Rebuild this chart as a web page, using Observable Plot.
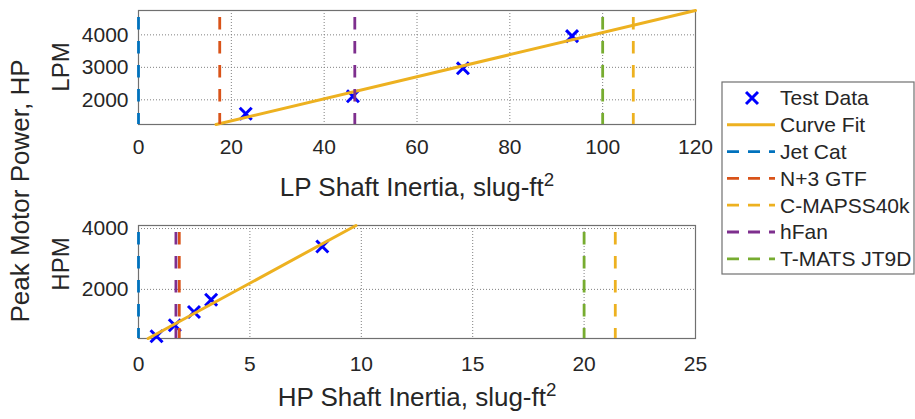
<!DOCTYPE html>
<html><head><meta charset="utf-8">
<script src="https://cdn.jsdelivr.net/npm/d3@7"></script>
<script src="https://cdn.jsdelivr.net/npm/@observablehq/plot@0.6"></script>
<style>
body{margin:0;background:#fff;font-family:"Liberation Sans",Arial,sans-serif;color:#262626;}
#root{position:relative;width:915px;height:419px;overflow:hidden;background:#fff;}
.abs{position:absolute;left:0;}
.lbl{position:absolute;font-size:26px;white-space:nowrap;transform:translate(-50%,-50%);line-height:1;}
.rot{transform:translate(-50%,-50%) rotate(-90deg);}
.sm{font-size:24px;}
sup{font-size:0.72em;vertical-align:0.55em;line-height:0;}
</style></head><body><div id="root"></div>
<script>
// ---- data ----
const lpTestX = [23.1, 46.2, 69.9, 93.4];
const lpTestY = [1570, 2110, 2970, 3960];
const lpFitX = [16.7, 120];
const lpFitY = [1240, 4750];
const hpTestX = [0.81, 1.63, 2.49, 3.26, 8.25];
const hpTestY = [460, 820, 1255, 1660, 3410];
const hpFitX = [0.43, 9.76];
const hpFitY = [385, 4100];
const engines = ["Jet Cat", "N+3 GTF", "C-MAPSS40k", "hFan", "T-MATS JT9D"];
const engineColors = ["#0072BD", "#D95319", "#EDB120", "#7E2F8E", "#77AC30"];
const lpEngineX = [0, 17.5, 106.6, 46.6, 100];
const hpEngineX = [0, 1.83, 21.4, 1.68, 20.0];
const lpXTicks = [0, 20, 40, 60, 80, 100, 120];
const lpYTicks = [2000, 3000, 4000];
const hpXTicks = [0, 5, 10, 15, 20, 25];
const hpYTicks = [2000, 4000];
const lpDomainX = [0, 120], lpDomainY = [1240, 4750];
const hpDomainX = [0, 25], hpDomainY = [385, 4100];
const legendNames = ["Test Data", "Curve Fit", ...engines];
const testColor = "#0000FF", fitColor = "#EDB120";

const FONT = '"Liberation Sans", Arial, sans-serif';
const root = document.getElementById("root");

function panel({testX, testY, fitX, fitY, engX, xDomain, yDomain, xTicks, yTicks, height, mb, xpad}) {
  const test = testX.map((x, i) => ({x, y: testY[i]}));
  const fit = fitX.map((x, i) => ({x, y: fitY[i]}));
  const eng = engX.map((x, i) => ({x, name: engines[i], color: engineColors[i]}));
  return Plot.plot({
    width: 700, height, marginLeft: 138, marginRight: 5, marginTop: 10, marginBottom: mb,
    style: {fontFamily: FONT, fontSize: "21px", color: "#262626", background: "transparent", overflow: "visible"},
    x: {domain: xDomain, ticks: xTicks, tickSize: 0, tickPadding: xpad, label: null, tickFormat: d => String(d)},
    y: {domain: yDomain, ticks: yTicks, tickSize: 0, tickPadding: 10, label: null, tickFormat: d => String(d)},
    color: {type: "identity"},
    marks: [
      Plot.ruleX(xTicks.slice(1, -1), {stroke: "#808080", strokeDasharray: "1,2", strokeWidth: 1}),
      Plot.ruleY(yTicks, {stroke: "#808080", strokeDasharray: "1,2", strokeWidth: 1}),
      Plot.frame({stroke: "#707070", strokeWidth: 1.2}),
      Plot.dot(test, {x: "x", y: "y", symbol: "times", r: 5.5, stroke: testColor, strokeWidth: 3}),
      Plot.line(fit, {x: "x", y: "y", stroke: fitColor, strokeWidth: 3}),
      Plot.ruleX(eng, {x: "x", stroke: "color", strokeWidth: 2.8, strokeDasharray: "12.5,11.5", strokeDashoffset: -7})
    ]
  });
}

const top1 = panel({testX: lpTestX, testY: lpTestY, fitX: lpFitX, fitY: lpFitY, engX: lpEngineX,
  xDomain: lpDomainX, yDomain: lpDomainY, xTicks: lpXTicks, yTicks: lpYTicks, height: 200, mb: 76, xpad: 15});
top1.classList.add("abs"); top1.style.top = "0px";
root.appendChild(top1);

const bot = panel({testX: hpTestX, testY: hpTestY, fitX: hpFitX, fitY: hpFitY, engX: hpEngineX,
  xDomain: hpDomainX, yDomain: hpDomainY, xTicks: hpXTicks, yTicks: hpYTicks, height: 204, mb: 81, xpad: 18});
bot.classList.add("abs"); bot.style.top = "215px";
root.appendChild(bot);

function label(html, x, y, rot, cls) {
  const d = document.createElement("div");
  d.className = "lbl" + (rot ? " rot" : "") + (cls ? " " + cls : "");
  d.style.left = x + "px"; d.style.top = y + "px";
  d.innerHTML = html;
  root.appendChild(d);
}
label("LP Shaft Inertia, slug-ft<sup>2</sup>", 417, 187);
label("HP Shaft Inertia, slug-ft<sup>2</sup>", 417, 397);
label("LPM", 61, 67, true, "sm");
label("HPM", 61, 264, true, "sm");
label("Peak Motor Power, HP", 20, 191, true);

// ---- legend ----
const lg = d3.create("svg").attr("width", 194).attr("height", 194)
  .style("position", "absolute").style("left", "721px").style("top", "81px")
  .style("font-family", FONT).style("font-size", "21px");
lg.append("rect").attr("x", 1).attr("y", 1).attr("width", 192).attr("height", 192)
  .attr("fill", "#fff").attr("stroke", "#707070").attr("stroke-width", 1.2);
legendNames.forEach((name, i) => {
  const cy = 17 + i * 26.8;
  const g = lg.append("g").attr("transform", `translate(0,${cy})`);
  if (i === 0) {
    g.append("path").attr("d", d3.symbol(d3.symbolTimes, 95)()).attr("transform", "translate(31,0)")
      .attr("stroke", testColor).attr("stroke-width", 3).attr("fill", "none");
  } else if (i === 1) {
    g.append("line").attr("x1", 6).attr("x2", 54).attr("stroke", fitColor).attr("stroke-width", 3);
  } else {
    g.append("line").attr("x1", 6).attr("x2", 54).attr("stroke", engineColors[i - 2])
      .attr("stroke-width", 2.8).attr("stroke-dasharray", "12,9");
  }
  g.append("text").attr("x", 59).attr("y", 0).attr("dy", "0.35em").attr("fill", "#262626").text(name);
});
root.appendChild(lg.node());
</script></body></html>
